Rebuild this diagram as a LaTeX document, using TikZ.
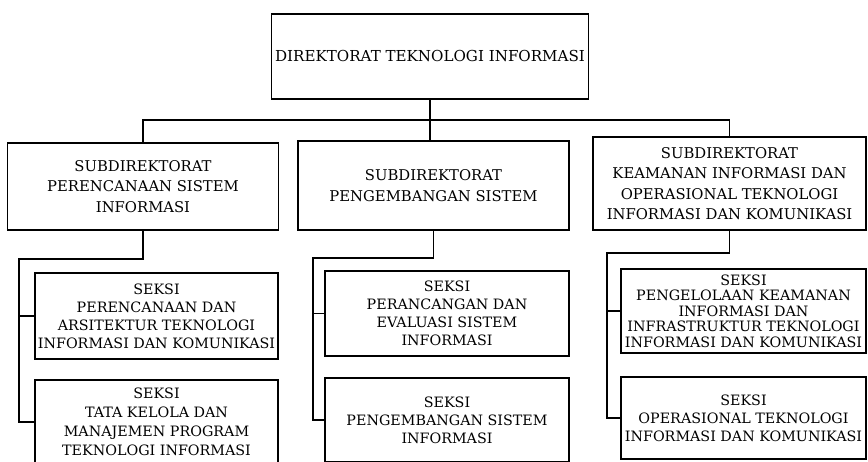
\documentclass[tikz,border=0pt]{standalone}
\usepackage{fontspec}
\setmainfont{DejaVu Serif}
\usetikzlibrary{positioning}

\begin{document}
\begin{tikzpicture}[x=1pt, y=-1pt,
        box/.style={draw, line width=1.6pt, align=center, inner sep=0pt},
        topbox/.style={box, minimum width=317pt, minimum height=85pt, font=\fontsize{15.1}{20}\selectfont},
        subbox/.style={box, minimum width=271pt, font=\fontsize{14.8}{20.5}\selectfont},
        sekbox/.style={box, minimum width=244pt, minimum height=84pt, font=\fontsize{14.3}{18}\selectfont},
        conn/.style={line width=1.6pt}
    ]
        \useasboundingbox (0,0) rectangle (868,461);
        \clip (0,0) rectangle (868,461);
        % top level
        \node[topbox] (dir) at (430,56.5) {DIREKTORAT TEKNOLOGI INFORMASI};
        % subdirektorat
        \node[subbox, minimum height=87pt] (subA) at (143,186.5) {SUBDIREKTORAT\\PERENCANAAN SISTEM\\INFORMASI};
        \node[subbox, minimum height=89pt] (subB) at (433.5,185.5) {SUBDIREKTORAT\\PENGEMBANGAN SISTEM};
        \node[subbox, minimum width=273pt, minimum height=93pt] (subC) at (729.5,183.5) {SUBDIREKTORAT\\KEAMANAN INFORMASI DAN\\OPERASIONAL TEKNOLOGI\\INFORMASI DAN KOMUNIKASI};
        % seksi
        \node[sekbox, minimum width=243pt, minimum height=86pt] (sekA1) at (156.5,316) {SEKSI\\PERENCANAAN DAN\\ARSITEKTUR TEKNOLOGI\\INFORMASI DAN KOMUNIKASI};
        \node[sekbox, minimum width=243pt, font=\fontsize{14.3}{19}\selectfont] (sekA2) at (156.5,422) {SEKSI\\TATA KELOLA DAN\\MANAJEMEN PROGRAM\\TEKNOLOGI INFORMASI};
        \node[sekbox, minimum height=85pt] (sekB1) at (447,313.5) {SEKSI\\PERANCANGAN DAN\\EVALUASI SISTEM\\INFORMASI};
        \node[sekbox] (sekB2) at (447,420) {SEKSI\\PENGEMBANGAN SISTEM\\INFORMASI};
        \node[sekbox, minimum width=245pt, font=\fontsize{14.3}{15.5}\selectfont] (sekC1) at (743.5,311) {SEKSI\\PENGELOLAAN KEAMANAN\\INFORMASI DAN\\INFRASTRUKTUR TEKNOLOGI\\INFORMASI DAN KOMUNIKASI};
        \node[sekbox, minimum width=245pt, minimum height=82pt] (sekC2) at (743.5,418) {SEKSI\\OPERASIONAL TEKNOLOGI\\INFORMASI DAN KOMUNIKASI};
        % bus and rails
        \coordinate (bus) at (0,120);
        \coordinate (railA) at (19,259);
        \coordinate (railB) at (313,258);
        \coordinate (railC) at (607,253);
        \draw[conn] (dir.south) -- (dir.south |- subB.north);
        \draw[conn] (subA.north) -- (subA.north |- bus) -- (subC.north |- bus) -- (subC.north);
        \draw[conn] (subA.south) -- (subA.south |- railA) -- (railA) -- (railA |- sekA2.west) -- (sekA2.west);
        \draw[conn] (railA |- sekA1.west) -- (sekA1.west);
        \draw[conn] (subB.south) -- (subB.south |- railB) -- (railB) -- (railB |- sekB2.west) -- (sekB2.west);
        \draw[conn] (railB |- sekB1.west) -- (sekB1.west);
        \draw[conn] (subC.south) -- (subC.south |- railC) -- (railC) -- (railC |- sekC2.west) -- (sekC2.west);
        \draw[conn] (railC |- sekC1.west) -- (sekC1.west);
    \end{tikzpicture}
\end{document}
